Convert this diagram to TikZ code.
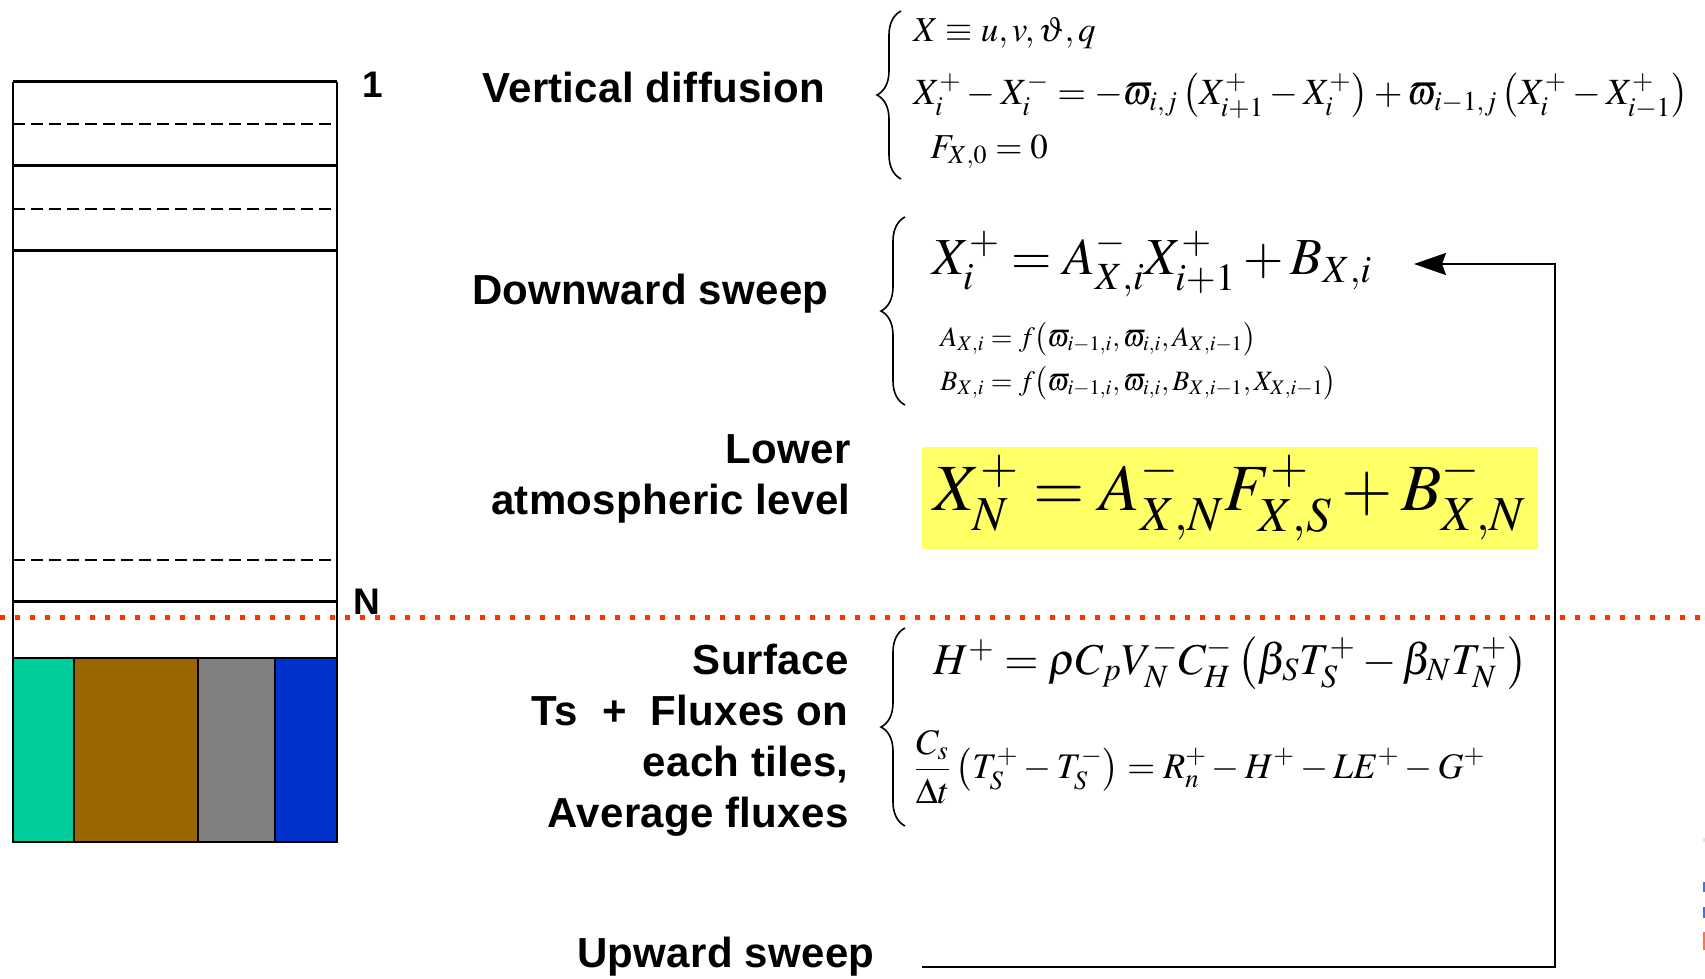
\documentclass[tikz,border=0pt]{standalone}
\usepackage{mathptmx}
\usepackage[no-math]{fontspec}
\setsansfont{Liberation Sans}[LetterSpace=0.7]
\usetikzlibrary{arrows.meta,decorations.pathreplacing}
\definecolor{tileteal}{HTML}{00CC99}
\definecolor{tilebrown}{HTML}{996600}
\definecolor{tilegray}{HTML}{808080}
\definecolor{tileblue}{HTML}{0033CC}
\definecolor{sfcred}{HTML}{FF3300}
\definecolor{hiyellow}{HTML}{FFFF66}
\begin{document}
\begin{tikzpicture}[x=0.5pt,y=-0.5pt,
  lab/.style={font=\fontsize{21}{25.5}\selectfont\sffamily\bfseries, inner sep=0pt},
  idx/.style={font=\fontsize{18.5}{22}\selectfont\sffamily\bfseries, inner sep=0pt},
  eq/.style={inner sep=0pt, anchor=west},
  levelline/.style={line width=1.5pt},
  sideline/.style={line width=1pt},
  halfline/.style={line width=1pt, dash pattern=on 6pt off 3pt},
  tile/.style={draw=black, line width=1pt},
  surfline/.style={sfcred, line width=2.5pt, dash pattern=on 2.5pt off 5pt},
  brc/.style={line width=0.8pt, decorate, decoration={brace, amplitude=12pt}},
  flow/.style={line width=1pt, -{Stealth[length=16pt,width=11pt,inset=2pt]}}]
\useasboundingbox (0,0) rectangle (1705,979);
% ---- column of levels
\draw[levelline] (13,82) -- (337,82);
\draw[levelline] (13,166) -- (337,166);
\draw[levelline] (13,251) -- (337,251);
\draw[levelline] (13,601) -- (337,601);
\draw[halfline] (13,124) -- (331,124);
\draw[halfline] (13,209) -- (331,209);
\draw[halfline] (13,560) -- (331,560);
\draw[sideline] (13,82) -- (13,842);
\draw[sideline] (337,82) -- (337,842);
\draw[tile, fill=tileteal] (13,658) rectangle (74,842);
\draw[tile, fill=tilebrown] (74,658) rectangle (198,842);
\draw[tile, fill=tilegray] (198,658) rectangle (275,842);
\draw[tile, fill=tileblue] (275,658) rectangle (337,842);
\node[idx] (one) at (373,85) {1};
\node[idx] (levN) at (367,602) {N};
\draw[surfline] (0,617) -- (1705,617);
% ---- labels
\node[lab, anchor=west] (vd) at (482,87) {Vertical diffusion};
\node[lab, anchor=west] (ds) at (472,294) {Downward sweep};
\node[lab, anchor=east, align=right] (lal) at (851,479) {Lower\\atmospheric level};
\node[lab, anchor=east, align=right] (sfc) at (849,740) {Surface\\Ts\ \ +\ \ Fluxes on\\each tiles,\\Average fluxes};
\node[lab, anchor=west] (up) at (577,957) {Upward sweep};
% ---- braces
\draw[brc] (901,179) -- (901,11);
\draw[brc] (905,405) -- (905,217);
\draw[brc] (905,826) -- (905,628);
% ---- vertical diffusion equations
\node[eq, font=\fontsize{17.5}{20}\selectfont] (e1a) at (913,33) {$X \equiv u, v, \vartheta, q$};
\node[eq, font=\fontsize{18.5}{21}\selectfont] (e1b) at (913,96) {$X_i^{+} - X_i^{-} = -\varpi_{i,j}\,\!\left(X_{i+1}^{+} - X_i^{+}\right) + \varpi_{i-1,j}\,\!\left(X_i^{+} - X_{i-1}^{+}\right)$};
\node[eq, font=\fontsize{17.5}{20}\selectfont] (e1c) at (930,152) {$F_{X,0} = 0$};
% ---- downward sweep equations
\node[eq, font=\fontsize{26}{30}\selectfont] (e2a) at (932,264) {$X_i^{+} = A_{X,i}^{-}X_{i+1}^{+} + B_{X,i}$};
\node[eq, font=\fontsize{14}{17}\selectfont] (e2b) at (940,339) {$A_{X,i} = f\bigl(\varpi_{i-1,i},\varpi_{i,i},A_{X,i-1}\bigr)$};
\node[eq, font=\fontsize{14}{17}\selectfont] (e2c) at (940,383) {$B_{X,i} = f\bigl(\varpi_{i-1,i},\varpi_{i,i},B_{X,i-1},X_{X,i-1}\bigr)$};
% ---- lower level
\node[fill=hiyellow, minimum width=308pt, minimum height=51pt, inner sep=0pt, font=\fontsize{33}{37}\selectfont] (e3) at (1230,498) {$X_N^{+} = A_{X,N}^{-}F_{X,S}^{+} + B_{X,N}^{-}$};
% ---- surface equations
\node[eq, font=\fontsize{22}{26}\selectfont] (e4a) at (933,663) {$H^{+} = \rho C_p V_N^{-} C_H^{-}\left(\beta_S T_S^{+} - \beta_N T_N^{+}\right)$};
\node[eq, font=\fontsize{18}{21}\selectfont] (e4b) at (913,767) {$\displaystyle\frac{C_s}{\Delta t}\left(T_S^{+} - T_S^{-}\right) = R_n^{+} - H^{+} - LE^{+} - G^{+}$};
% ---- upward sweep loop
\coordinate (ustart) at (922,967);
\coordinate (ucorner) at (1555,967);
\coordinate (tcorner) at (1555,264);
\coordinate (tip) at (1414,264);
\draw[flow] (ustart) -- (ucorner) -- (tcorner) -- (tip);
% ---- cut-off marks at right edge
\fill[black!10] (1703,838) rectangle (1705,842);
\fill[tileblue!70] (1703,882) rectangle (1705,892);
\fill[tileblue!70] (1703,907) rectangle (1705,918);
\fill[sfcred!70] (1703,932) rectangle (1705,950);
\end{tikzpicture}
\end{document}
